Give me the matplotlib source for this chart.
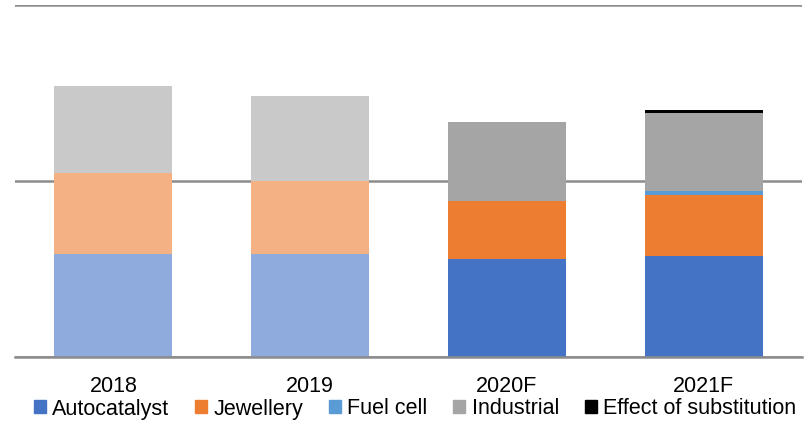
import numpy as np
import matplotlib
matplotlib.use("Agg")
import matplotlib.pyplot as plt
from matplotlib.patches import Patch

plt.rcParams['font.family'] = ['Liberation Sans', 'DejaVu Sans']

years = ["2018", "2019", "2020F", "2021F"]
series = ["Autocatalyst", "Jewellery", "Fuel cell", "Industrial", "Effect of substitution"]
autocatalyst = [2345, 2345, 2230, 2300]
jewellery = [1845, 1665, 1320, 1390]
fuel_cell = [0, 0, 0, 75]
industrial = [1975, 1930, 1800, 1790]
substitution = [0, 0, 0, 60]

dark = ["#4472C4", "#ED7D31", "#5B9BD5", "#A5A5A5", "#000000"]
light = ["#8FAADC", "#F4B183", "#9DC3E6", "#C9C9C9", "#000000"]
is_forecast = [False, False, True, True]

fig = plt.figure(figsize=(8.09, 4.25), dpi=100)
ax = fig.add_axes([15 / 809, 1 - 357 / 425, 787 / 809, 352 / 425])

x = np.arange(len(years))
bottom = np.zeros(len(years))
for i, vals in enumerate([autocatalyst, jewellery, fuel_cell, industrial, substitution]):
    cols = [dark[i] if f else light[i] for f in is_forecast]
    ax.bar(x, vals, 0.6, bottom=bottom, color=cols, zorder=3)
    bottom += np.array(vals)

ax.set_xlim(-0.5, 3.5)
ax.set_ylim(0, 8000)
ax.set_yticks([0, 4000, 8000])
ax.yaxis.grid(True, color="#8C8C8C", lw=1.8, zorder=1)
ax.tick_params(axis="y", left=False, labelleft=False)
ax.tick_params(axis="x", length=0, labelsize=15.5, pad=14)
ax.set_xticks(x)
ax.set_xticklabels(years)
for s in ["top", "left", "right"]:
    ax.spines[s].set_visible(False)
ax.spines["bottom"].set_color("#8C8C8C")
ax.spines["bottom"].set_linewidth(1.8)
ax.spines["bottom"].set_zorder(4)

handles = [Patch(color=c) for c in dark]
fig.legend(handles, series, loc="center", bbox_to_anchor=(415 / 809, 1 - 409 / 425),
           ncol=5, frameon=False, fontsize=15.5, handlelength=0.55, handleheight=0.55,
           handletextpad=0.3, columnspacing=1.2, borderpad=0)

fig.savefig("out.png", dpi=100)
